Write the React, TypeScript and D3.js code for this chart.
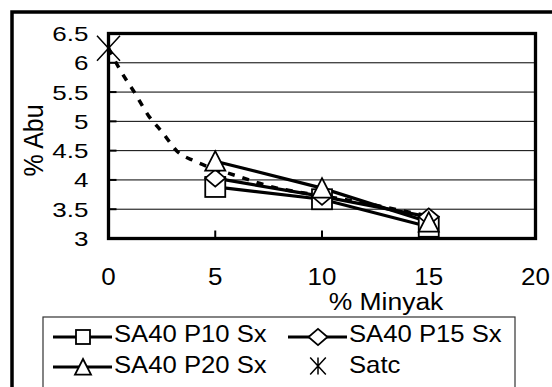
import React from "react";
import * as d3 from "d3";

const xTicks = [0, 5, 10, 15, 20];
const yTicks = [3, 3.5, 4, 4.5, 5, 5.5, 6, 6.5];
const minyak = [5, 10, 15];
const p10 = [3.88, 3.67, 3.2];
const p15 = [4.03, 3.72, 3.37];
const p20 = [4.32, 3.86, 3.28];
const satcX = [0, 0.54, 1.24, 1.85, 2.55, 3.21, 4.05, 6.0, 7.9, 8.8, 11.3, 15];
const satcY = [6.25, 5.88, 5.48, 5.11, 4.8, 4.49, 4.32, 4.07, 3.86, 3.8, 3.65, 3.38];
const seriesNames = ["SA40 P10 Sx", "SA40 P15 Sx", "SA40 P20 Sx", "Satc"];
const xTitle = "% Minyak";
const yTitle = "% Abu";

const W = 552, H = 387;
const FONT = "'Liberation Sans', Arial, sans-serif";

type Shape = "square" | "diamond" | "triangle" | "star";

function Marker({ shape, cx, cy, s }: { shape: Shape; cx: number; cy: number; s: number }) {
  const h = s / 2;
  const st = { fill: "#fff", stroke: "#000", strokeWidth: 1.8 } as const;
  if (shape === "square") return <rect x={cx - h} y={cy - h} width={s} height={s} {...st} />;
  if (shape === "diamond")
    return <path d={`M${cx},${cy - h * 0.85}L${cx + h},${cy}L${cx},${cy + h * 0.85}L${cx - h},${cy}Z`} {...st} />;
  if (shape === "triangle")
    return <path d={`M${cx},${cy - h}L${cx + h},${cy + h * 0.95}L${cx - h},${cy + h * 0.95}Z`} {...st} />;
  const w = s * 0.46;
  return (
    <path
      d={`M${cx - w},${cy - h}L${cx + w},${cy + h}M${cx + w},${cy - h}L${cx - w},${cy + h}M${cx},${cy - h}L${cx},${cy + h}`}
      stroke="#000"
      strokeWidth={1.5}
      fill="none"
    />
  );
}

export default function App() {
  const x = d3.scaleLinear().domain([0, 20]).range([108.5, 535.5]);
  const y = d3.scaleLinear().domain([3, 6.5]).range([238.5, 33.5]);

  const line = d3
    .line<[number, number]>()
    .x((d) => x(d[0]))
    .y((d) => y(d[1]));
  const smooth = d3
    .line<[number, number]>()
    .x((d) => x(d[0]))
    .y((d) => y(d[1]))
    .curve(d3.curveMonotoneX);

  const solid = [
    { vals: p10, shape: "square" as Shape },
    { vals: p15, shape: "diamond" as Shape },
    { vals: p20, shape: "triangle" as Shape },
  ];
  const satcPts: [number, number][] = satcX.map((v, i) => [v, satcY[i]]);

  const legendItems = [
    { name: seriesNames[0], shape: "square" as Shape, lx: 53, ly: 337, base: 342, line: true, ms: 14 },
    { name: seriesNames[1], shape: "diamond" as Shape, lx: 288, ly: 337, base: 342, line: true, ms: 19 },
    { name: seriesNames[2], shape: "triangle" as Shape, lx: 53, ly: 367, base: 373, line: true, ms: 16 },
    { name: seriesNames[3], shape: "star" as Shape, lx: 288, ly: 366, base: 373, line: false, ms: 17 },
  ];

  return (
    <svg width={W} height={H} style={{ position: "absolute", left: 0, top: 0, background: "#fff" }} fontFamily={FONT}>
      <rect x={0} y={0} width={W} height={H} fill="#fff" />
      {/* outer border */}
      <rect x={12} y={12} width={620} height={520} fill="none" stroke="#000" strokeWidth={3.5} />
      {/* gridlines */}
      {yTicks.filter((t) => t > 3 && t < 6.5).map((t) => (
        <g key={t}>
          <line x1={x(0)} x2={x(20)} y1={y(t)} y2={y(t)} stroke="#000" strokeWidth={1} />
          <line x1={x(0)} x2={x(0) + 8} y1={y(t)} y2={y(t)} stroke="#000" strokeWidth={2} />
        </g>
      ))}
      {xTicks.filter((t) => t > 0 && t < 20).map((t) => (
        <line key={t} x1={x(t)} x2={x(t)} y1={y(3)} y2={y(3) - 8} stroke="#000" strokeWidth={2} />
      ))}
      {/* plot frame */}
      <rect x={x(0)} y={y(6.5)} width={x(20) - x(0)} height={y(3) - y(6.5)} fill="none" stroke="#000" strokeWidth={3.3} />
      {/* solid series lines */}
      {solid.map((s, i) => (
        <path key={i} d={line(minyak.map((m, j) => [m, s.vals[j]] as [number, number])) || ""} fill="none" stroke="#000" strokeWidth={3.2} />
      ))}
      {/* Satc dashed */}
      <path d={smooth(satcPts) || ""} fill="none" stroke="#000" strokeWidth={3.5} strokeDasharray="7 8" />
      {/* markers */}
      {solid.map((s, i) => (
        <g key={i}>
          {minyak.map((m, j) => (
            <Marker key={j} shape={s.shape} cx={x(m)} cy={y(s.vals[j])} s={20} />
          ))}
        </g>
      ))}
      <Marker shape="star" cx={x(satcX[0])} cy={y(satcY[0])} s={25} />
      {/* y tick labels */}
      {yTicks.map((t) => (
        <text key={t} transform={`translate(88.5,${y(t) + 7.5}) scale(1,0.8)`} fontSize={26} textAnchor="end">
          {String(t)}
        </text>
      ))}
      {/* x tick labels */}
      {xTicks.map((t) => (
        <text key={t} transform={`translate(${x(t)},284.5) scale(1.13,1)`} fontSize={23} textAnchor="middle">
          {String(t)}
        </text>
      ))}
      <text transform={`translate(386,310) scale(1.08,1)`} fontSize={24.5} textAnchor="middle">
        {xTitle}
      </text>
      <text transform={`translate(43,140.5) rotate(-90) scale(1,1.1)`} fontSize={25} textAnchor="middle">
        {yTitle}
      </text>
      {/* legend */}
      <rect x={43} y={317} width={472} height={100} fill="#fff" stroke="#333" strokeWidth={1.2} />
      {legendItems.map((it, i) => (
        <g key={i}>
          {it.line && <line x1={it.lx} x2={it.lx + 59} y1={it.ly} y2={it.ly} stroke="#000" strokeWidth={3} />}
          <Marker shape={it.shape} cx={it.lx + 30} cy={it.ly} s={it.ms} />
          <text transform={`translate(${it.lx + 61},${it.base}) scale(1.07,1)`} fontSize={24}>
            {it.name}
          </text>
        </g>
      ))}
    </svg>
  );
}
